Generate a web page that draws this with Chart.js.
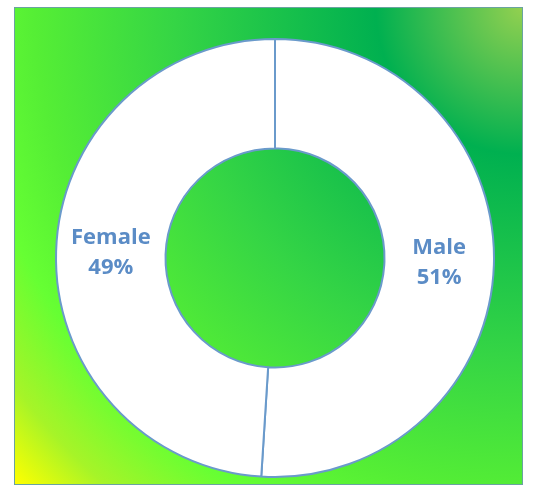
<!DOCTYPE html>
<html>
<head>
<meta charset="utf-8">
<script src="https://cdn.jsdelivr.net/npm/chart.js@4"></script>
<style>
  body { margin: 0; background: #fff; }
  #box {
    position: absolute; left: 14px; top: 7px; width: 507px; height: 476px;
    border: 1px solid #6aa3a0;
    background: radial-gradient(circle farthest-corner at 100% 0%,
      #92d050 0%, #00b050 21%, #35d545 50%, #55ee35 70%, #66ff33 80%, #a6f428 91%, #ffff00 100%);
  }
  #chart { display: block; }
</style>
</head>
<body>
<div id="box"><canvas id="chart" width="507" height="476"></canvas></div>
<script>
var categories = ['Male', 'Female'];
var shares = [51, 49];

// labels drawn in the middle of each ring segment
var ringLabels = {
    id: 'ringLabels',
    afterDatasetsDraw: function (chart) {
        var c = chart.ctx;
        var arcs = chart.getDatasetMeta(0).data;
        c.save();
        c.fillStyle = '#5b8cc6';
        c.font = 'bold 22px "Open Sans", sans-serif';
        c.textAlign = 'center';
        c.textBaseline = 'middle';
        arcs.forEach(function (arc, i) {
            var p = arc.getCenterPoint();
            c.fillText(categories[i], p.x, p.y - 15);
            c.fillText(shares[i] + '%', p.x, p.y + 15);
        });
        c.restore();
    }
};

let ctx = document.getElementById('chart');
var genderChart = new Chart(ctx, {
    type: 'doughnut',
    data: {
        labels: categories,
        datasets: [{
            data: shares,
            backgroundColor: '#ffffff',
            borderColor: '#6a9acb',
            borderWidth: 2
        }]
    },
    options: {
        responsive: false,
        animation: false,
        cutout: '50%',
        layout: { padding: { left: 40, right: 27, top: 30, bottom: 6 } },
        plugins: {
            legend: { display: false },
            tooltip: { enabled: false }
        }
    },
    plugins: [ringLabels]
});
</script>
</body>
</html>
